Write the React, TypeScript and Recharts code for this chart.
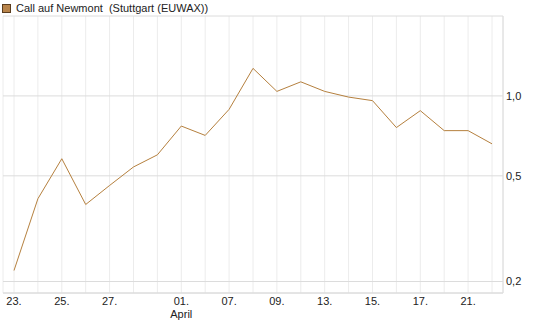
import React from 'react';
import { LineChart, Line, XAxis, YAxis, CartesianGrid } from 'recharts';

// trading days, 23 March - 22 April
const dates = ['23.', '24.', '25.', '26.', '27.', '30.', '31.', '01.', '02.', '07.', '08.', '09.', '10.', '13.', '14.', '15.', '16.', '17.', '20.', '21.', '22.'];
const prices = [0.22, 0.41, 0.58, 0.39, 0.46, 0.54, 0.6, 0.77, 0.71, 0.89, 1.27, 1.04, 1.13, 1.04, 0.99, 0.96, 0.76, 0.88, 0.74, 0.74, 0.66];
const shownTicks = ['23.', '25.', '27.', '01.', '07.', '09.', '13.', '15.', '17.', '21.'];
const monthLabels: Record<string, string> = { '01.': 'April' };
const yTicks = [0.2, 0.5, 1.0];
const yDomain = [0.181, 2.0];
const title = 'Call auf Newmont  (Stuttgart (EUWAX))';

const chartData = dates.map((d, i) => ({ date: d, price: prices[i] }));

const FONT = '"Liberation Sans", Arial, sans-serif';
const LINE = '#b5803e';
const BORDER = '#dcdcdc';

function DateTick(props: any) {
    const { x, y, payload } = props;
    const label = payload.value as string;
    if (!shownTicks.includes(label)) return null;
    return (
        <g>
            <text x={x} y={y} dy="0.71em" textAnchor="middle" fontSize={11} fill="#222" fontFamily={FONT}>
                {label}
            </text>
            {monthLabels[label] && (
                <text x={x} y={y + 13} dy="0.71em" textAnchor="middle" fontSize={11} fill="#222" fontFamily={FONT}>
                    {monthLabels[label]}
                </text>
            )}
        </g>
    );
}

function TitleLegend() {
    return (
        <div style={{ position: 'absolute', top: 2, left: 2, display: 'flex', alignItems: 'center', fontFamily: FONT, fontSize: 11, color: '#222' }}>
            <span style={{ width: 7, height: 7, background: '#b8844a', border: '1px solid #5a3d1e', marginRight: 5, display: 'inline-block' }} />
            <span style={{ whiteSpace: 'pre' }}>{title}</span>
        </div>
    );
}

export default function App() {
    return (
        <div style={{ position: 'absolute', left: 0, top: 0, width: 545, height: 327 }}>
            <LineChart width={545} height={327} data={chartData} margin={{ top: 16, right: 0, bottom: 0, left: 3 }}>
                <CartesianGrid horizontal={false} stroke="#ececec" />
                <CartesianGrid vertical={false} stroke={BORDER} />
                <XAxis
                    dataKey="date"
                    interval={0}
                    padding={{ left: 11, right: 11 }}
                    axisLine={{ stroke: BORDER }}
                    tickLine={false}
                    tickSize={0}
                    tickMargin={4}
                    height={34}
                    tick={<DateTick />}
                />
                {/* frame top edge */}
                <XAxis xAxisId="top" orientation="top" dataKey="date" height={0} tick={false} tickLine={false} axisLine={{ stroke: BORDER }} />
                <YAxis
                    orientation="right"
                    scale="log"
                    domain={yDomain}
                    allowDataOverflow
                    ticks={yTicks}
                    width={42}
                    axisLine={{ stroke: BORDER }}
                    tickLine={false}
                    tickSize={0}
                    tickMargin={3}
                    tickFormatter={(v: number) => v.toFixed(1).replace('.', ',')}
                    tick={{ fontSize: 11, fill: '#222', fontFamily: FONT }}
                />
                {/* frame left edge */}
                <YAxis yAxisId="left" orientation="left" width={0} tick={false} tickLine={false} axisLine={{ stroke: BORDER }} />
                <Line
                    type="linear"
                    dataKey="price"
                    stroke={LINE}
                    strokeWidth={1}
                    dot={false}
                    activeDot={false}
                    isAnimationActive={false}
                />
            </LineChart>
            <TitleLegend />
        </div>
    );
}
